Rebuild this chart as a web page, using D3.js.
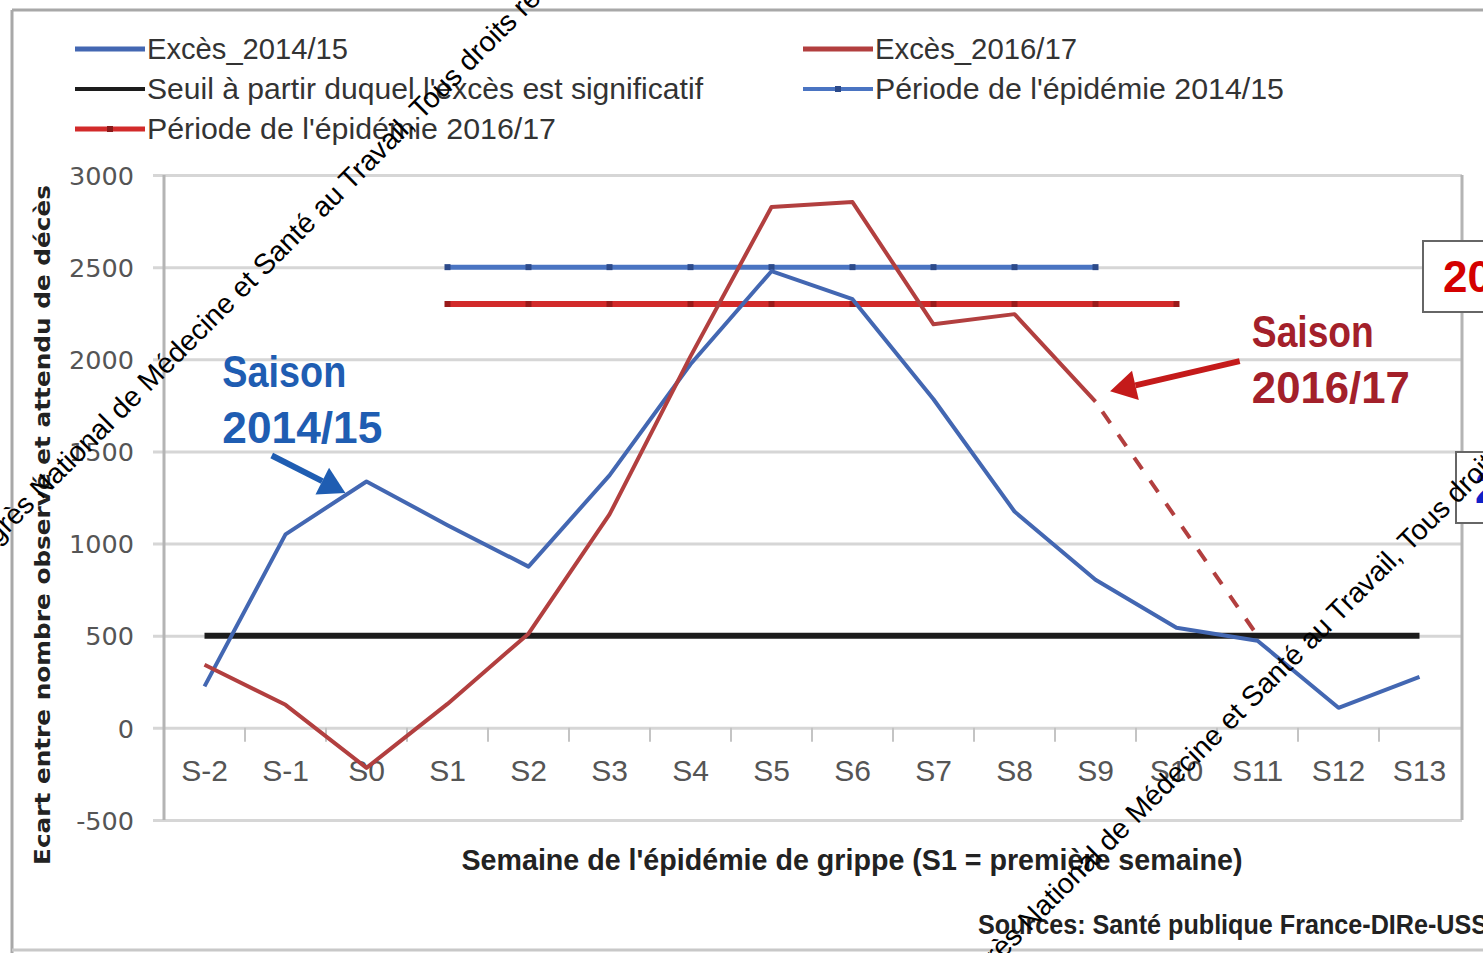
<!DOCTYPE html>
<html><head><meta charset="utf-8">
<script src="https://cdn.jsdelivr.net/npm/d3@7"></script>
<style>
html,body{margin:0;padding:0;background:#fff;overflow:hidden}
svg{display:block}
</style></head><body>
<svg id="chart" width="1483" height="953"></svg>
<script>
// ---------- DATA ----------
const weeks = ["S-2","S-1","S0","S1","S2","S3","S4","S5","S6","S7","S8","S9","S10","S11","S12","S13"];
const excess1415 = [225,1050,1337,1100,875,1370,1973,2478,2326,1783,1174,804,543,473,109,277];
const weeks1617 = ["S-2","S-1","S0","S1","S2","S3","S4","S5","S6","S7","S8","S9"];
const excess1617 = [342,125,-217,130,511,1158,2016,2826,2853,2190,2245,1770];
const projWeeks1617 = ["S9","S11"];
const proj1617 = [1770,500];
const thresholdWeeks = ["S-2","S13"];
const thresholdValue = 500;
const epiWeeks1415 = ["S1","S2","S3","S4","S5","S6","S7","S8","S9"];
const epiValue1415 = 2500;
const epiWeeks1617 = ["S1","S2","S3","S4","S5","S6","S7","S8","S9","S10"];
const epiValue1617 = 2300;
const yTicks = [-500,0,500,1000,1500,2000,2500,3000];

const legendLabels = ["Excès_2014/15","Seuil à partir duquel l'excès est significatif","Période de l'épidémie 2016/17","Excès_2016/17","Période de l'épidémie 2014/15"];
const yTitle = "Ecart entre nombre observé et attendu de décès";
const xTitle = "Semaine de l'épidémie de grippe (S1 = première semaine)";
const sourceText = "Sources: Santé publique France-DIRe-USS";
const watermark = "Congrès National de Médecine et Santé au Travail, Tous droits réservés";

// ---------- STYLE ----------
const C = {
  blue: "#4367b2", red: "#b23f3f", redEpi: "#d22a2a", blueEpi: "#4a74c2",
  black: "#1c1c1c", grid: "#d6d6d6", frame: "#b4b4b4", text: "#333", tick: "#555",
  annBlue: "#1f5db2", annRed: "#a3202a", arrowRed: "#c41a1a"
};
const narrow = "'Liberation Sans Narrow','Arial Narrow','Liberation Sans',sans-serif";

const svg = d3.select("#chart");
const x = d3.scaleBand().domain(weeks).range([164, 1460]).paddingInner(0).paddingOuter(0);
const y = d3.scaleLinear().domain([-500, 3000]).range([820, 175]);
const cx = w => x(w) + x.bandwidth() / 2;
const xi = i => cx(weeks[0]) + i * x.step(); // fractional category index

// outer frame
svg.append("line").attr("x1",12).attr("x2",1483).attr("y1",10).attr("y2",10).attr("stroke","#a8a8a8").attr("stroke-width",3);
svg.append("line").attr("x1",12).attr("x2",12).attr("y1",10).attr("y2",953).attr("stroke","#a8a8a8").attr("stroke-width",3);
svg.append("line").attr("x1",12).attr("x2",1483).attr("y1",950).attr("y2",950).attr("stroke","#c8c8c8").attr("stroke-width",3);

// gridlines
const yAxis = d3.axisLeft(y).tickValues(yTicks).tickSize(-(1462-153)).tickPadding(20).tickFormat(d => String(d));
const gy = svg.append("g").attr("transform","translate(153,0)").call(yAxis);
gy.select(".domain").remove();
gy.selectAll(".tick line").attr("stroke",C.grid).attr("stroke-width",3);
gy.selectAll(".tick text").attr("fill",C.tick).attr("font-family","'DejaVu Sans',Verdana,sans-serif")
  .attr("font-size",25.5).attr("x",-19).attr("dy","0.36em");

// plot frame
svg.append("line").attr("x1",164).attr("x2",164).attr("y1",175).attr("y2",820).attr("stroke",C.frame).attr("stroke-width",3);
svg.append("line").attr("x1",1462).attr("x2",1462).attr("y1",175).attr("y2",820).attr("stroke",C.frame).attr("stroke-width",3);

// x axis at 0
const xAxis = d3.axisBottom(x).tickSize(0).tickPadding(32);
const gx = svg.append("g").attr("transform",`translate(0,${y(0)})`).call(xAxis);
gx.select(".domain").remove();
gx.selectAll(".tick text").attr("fill",C.tick).attr("font-family",narrow).attr("font-size",30);
// category boundary ticks
svg.append("g").selectAll("line").data(weeks.slice(1)).join("line")
  .attr("x1",d=>x(d)).attr("x2",d=>x(d)).attr("y1",y(0)).attr("y2",y(0)+14)
  .attr("stroke","#c4c4c4").attr("stroke-width",2);

// axis titles
svg.append("text").attr("transform",`translate(50,${(185+865)/2}) rotate(-90)`).attr("text-anchor","middle")
  .attr("font-family","'DejaVu Sans',Verdana,sans-serif").attr("font-weight","bold").attr("font-size",22)
  .attr("fill","#222").attr("textLength",680).attr("lengthAdjust","spacingAndGlyphs").text(yTitle);
svg.append("text").attr("x",852).attr("y",870).attr("text-anchor","middle")
  .attr("font-family",narrow).attr("font-weight","bold").attr("font-size",29).attr("fill","#222")
  .attr("textLength",781).attr("lengthAdjust","spacingAndGlyphs").text(xTitle);
svg.append("text").attr("x",978).attr("y",934)
  .attr("font-family",narrow).attr("font-weight","bold").attr("font-size",27).attr("fill","#222")
  .attr("textLength",510).attr("lengthAdjust","spacingAndGlyphs").text(sourceText);

// threshold line
svg.append("line").attr("x1",cx(thresholdWeeks[0])).attr("x2",cx(thresholdWeeks[1]))
  .attr("y1",y(thresholdValue)).attr("y2",y(thresholdValue)).attr("stroke",C.black).attr("stroke-width",6);

// epidemic periods
function period(ws, v, color, sw, mcolor){
  svg.append("line").attr("x1",cx(ws[0])).attr("x2",cx(ws[ws.length-1])).attr("y1",y(v)).attr("y2",y(v))
    .attr("stroke",color).attr("stroke-width",sw);
  svg.append("g").selectAll("rect").data(ws).join("rect")
    .attr("x",d=>cx(d)-3).attr("y",y(v)-3).attr("width",6).attr("height",6).attr("fill",mcolor);
}
period(epiWeeks1415, epiValue1415, C.blueEpi, 5, "#2c4a8a");
period(epiWeeks1617, epiValue1617, C.redEpi, 6, "#9a1a1a");

// series lines
const line = d3.line().x(d=>cx(d[0])).y(d=>y(d[1]));
svg.append("path").datum(weeks.map((w,i)=>[w,excess1415[i]])).attr("d",line)
  .attr("fill","none").attr("stroke",C.blue).attr("stroke-width",4).attr("stroke-linejoin","round");
svg.append("path").datum(weeks1617.map((w,i)=>[w,excess1617[i]])).attr("d",line)
  .attr("fill","none").attr("stroke",C.red).attr("stroke-width",4).attr("stroke-linejoin","round");
svg.append("path").datum(projWeeks1617.map((w,i)=>[w,proj1617[i]])).attr("d",line)
  .attr("fill","none").attr("stroke",C.red).attr("stroke-width",4).attr("stroke-dasharray","14,14").attr("stroke-dashoffset",-12);

// annotations
function arrow(i0,v0,i1,v1,color,w){
  const x0=xi(i0),y0=y(v0),x1=xi(i1),y1=y(v1);
  const a=Math.atan2(y1-y0,x1-x0), L=26, W=15;
  const bx=x1-L*Math.cos(a), by=y1-L*Math.sin(a);
  svg.append("line").attr("x1",x0).attr("y1",y0).attr("x2",bx).attr("y2",by).attr("stroke",color).attr("stroke-width",w);
  svg.append("path").attr("d",`M${x1},${y1}L${bx+W*Math.sin(a)},${by-W*Math.cos(a)}L${bx-W*Math.sin(a)},${by+W*Math.cos(a)}Z`).attr("fill",color);
}
arrow(0.83,1478,1.74,1275,C.annBlue,6);
arrow(12.78,1990,11.18,1826,C.arrowRed,6);

function ann(i, v, txt, color, len){
  svg.append("text").attr("x",xi(i)).attr("y",y(v)).attr("font-family",narrow).attr("font-weight","bold")
    .attr("font-size",44).attr("fill",color).attr("textLength",len).attr("lengthAdjust","spacingAndGlyphs").text(txt);
}
ann(0.22,1848,"Saison",C.annBlue,124);
ann(0.22,1548,"2014/15",C.annBlue,160);
ann(12.93,2065,"Saison",C.annRed,122);
ann(12.93,1762,"2016/17",C.annRed,158);

// legend
const legend = [
  {x:75,y:49,color:C.blue,sw:5,marker:null},
  {x:75,y:89,color:C.black,sw:4,marker:null},
  {x:75,y:129,color:C.redEpi,sw:5,marker:"#8a1a1a"},
  {x:803,y:49,color:C.red,sw:5,marker:null},
  {x:803,y:89,color:C.blueEpi,sw:4,marker:"#2c4a8a"}
];
const legendW = [201,556,409,202,409];
legend.forEach((l,i)=>{
  svg.append("line").attr("x1",l.x).attr("x2",l.x+70).attr("y1",l.y).attr("y2",l.y).attr("stroke",l.color).attr("stroke-width",l.sw);
  if(l.marker) svg.append("rect").attr("x",l.x+32).attr("y",l.y-3).attr("width",6).attr("height",6).attr("fill",l.marker);
  svg.append("text").attr("x",l.x+72).attr("y",l.y+10).attr("font-family",narrow).attr("font-size",29).attr("fill",C.text)
    .attr("textLength",legendW[i]).attr("lengthAdjust","spacingAndGlyphs").text(legendLabels[i]);
});

// slide boxes at the right edge
svg.append("rect").attr("x",1423).attr("y",241).attr("width",80).attr("height",71).attr("fill","#fff").attr("stroke","#666").attr("stroke-width",2);
svg.append("text").attr("x",1443).attr("y",292).attr("font-family","'Liberation Sans',Arial,sans-serif").attr("font-weight","bold").attr("font-size",44).attr("fill","#d40000").text("20");
svg.append("rect").attr("x",1456).attr("y",452).attr("width",60).attr("height",71).attr("fill","#fff").attr("stroke","#666").attr("stroke-width",2);
svg.append("text").attr("x",1475).attr("y",503).attr("font-family","'Liberation Sans',Arial,sans-serif").attr("font-weight","bold").attr("font-size",44).attr("fill","#1020c8").text("2");

// watermarks
[[-40,582],[948,1014]].forEach(p=>{
  svg.append("text").attr("transform",`translate(${p[0]},${p[1]}) rotate(-45)`)
    .attr("font-family","'Liberation Sans',Arial,sans-serif").attr("font-size",28.5).attr("fill","#000").text(watermark);
});
</script>
</body></html>
